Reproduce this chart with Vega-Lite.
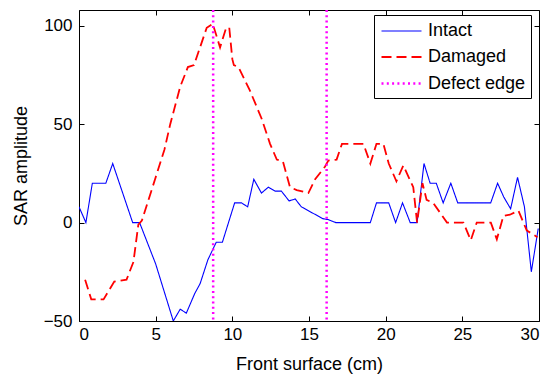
{
  "$schema": "https://vega.github.io/schema/vega-lite/v6.json",
  "width": 460,
  "height": 311,
  "autosize": "none",
  "padding": {"left": 79, "top": 10, "right": 16, "bottom": 56},
  "background": "white",
  "config": {
    "view": {"stroke": "black", "strokeWidth": 1},
    "font": "Liberation Sans",
    "axis": {
      "domain": false,
      "grid": false,
      "zindex": 1,
      "tickColor": "black",
      "tickSize": 5,
      "labelFontSize": 17,
      "labelColor": "black",
      "labelFont": "Liberation Sans",
      "titleFontSize": 18,
      "titleFontWeight": "normal",
      "titleColor": "black",
      "titleFont": "Liberation Sans"
    },
    "legend": {
      "orient": "none",
      "legendX": 295,
      "legendY": 5,
      "strokeColor": "black",
      "fillColor": "white",
      "padding": 5,
      "symbolOffset": 11,
      "labelFontSize": 18,
      "labelColor": "black",
      "labelFont": "Liberation Sans",
      "labelOffset": 15,
      "symbolType": "M-2,0H2",
      "symbolSize": 400,
      "rowPadding": 6,
      "title": null
    }
  },
  "datasets": {
    "lines": [
      {"series": "Intact", "x": 0, "y": 8},
      {"series": "Intact", "x": 0.45, "y": 0},
      {"series": "Intact", "x": 0.87, "y": 20},
      {"series": "Intact", "x": 1.75, "y": 20},
      {"series": "Intact", "x": 2.2, "y": 30},
      {"series": "Intact", "x": 3.5, "y": 0},
      {"series": "Intact", "x": 3.95, "y": 0},
      {"series": "Intact", "x": 5.0, "y": -21},
      {"series": "Intact", "x": 6.15, "y": -50},
      {"series": "Intact", "x": 6.6, "y": -44},
      {"series": "Intact", "x": 7.0, "y": -46},
      {"series": "Intact", "x": 7.55, "y": -36},
      {"series": "Intact", "x": 7.9, "y": -31},
      {"series": "Intact", "x": 8.4, "y": -19},
      {"series": "Intact", "x": 8.95, "y": -10},
      {"series": "Intact", "x": 9.35, "y": -10},
      {"series": "Intact", "x": 10.15, "y": 10},
      {"series": "Intact", "x": 10.6, "y": 10},
      {"series": "Intact", "x": 11.0, "y": 8},
      {"series": "Intact", "x": 11.4, "y": 22},
      {"series": "Intact", "x": 11.9, "y": 15},
      {"series": "Intact", "x": 12.35, "y": 18},
      {"series": "Intact", "x": 12.8, "y": 16},
      {"series": "Intact", "x": 13.2, "y": 16},
      {"series": "Intact", "x": 13.7, "y": 11},
      {"series": "Intact", "x": 14.1, "y": 12},
      {"series": "Intact", "x": 14.5, "y": 8},
      {"series": "Intact", "x": 15.9, "y": 2},
      {"series": "Intact", "x": 16.25, "y": 1.5},
      {"series": "Intact", "x": 16.75, "y": 0},
      {"series": "Intact", "x": 19.0, "y": 0},
      {"series": "Intact", "x": 19.4, "y": 10},
      {"series": "Intact", "x": 20.2, "y": 10},
      {"series": "Intact", "x": 20.65, "y": 0},
      {"series": "Intact", "x": 21.1, "y": 10},
      {"series": "Intact", "x": 21.6, "y": 0},
      {"series": "Intact", "x": 22.05, "y": 0},
      {"series": "Intact", "x": 22.5, "y": 30},
      {"series": "Intact", "x": 22.9, "y": 20},
      {"series": "Intact", "x": 23.3, "y": 20},
      {"series": "Intact", "x": 23.75, "y": 10},
      {"series": "Intact", "x": 24.25, "y": 20},
      {"series": "Intact", "x": 24.7, "y": 10},
      {"series": "Intact", "x": 26.85, "y": 10},
      {"series": "Intact", "x": 27.3, "y": 20},
      {"series": "Intact", "x": 27.7, "y": 13},
      {"series": "Intact", "x": 28.15, "y": 7},
      {"series": "Intact", "x": 28.6, "y": 23},
      {"series": "Intact", "x": 29.05, "y": 8},
      {"series": "Intact", "x": 29.5, "y": -25},
      {"series": "Intact", "x": 29.95, "y": -3},
      {"series": "Damaged", "x": 0.4, "y": -29},
      {"series": "Damaged", "x": 0.8, "y": -39},
      {"series": "Damaged", "x": 1.6, "y": -39},
      {"series": "Damaged", "x": 2.3, "y": -30},
      {"series": "Damaged", "x": 3.1, "y": -29},
      {"series": "Damaged", "x": 3.55, "y": -20},
      {"series": "Damaged", "x": 3.87, "y": -1},
      {"series": "Damaged", "x": 4.1, "y": 1},
      {"series": "Damaged", "x": 4.96, "y": 22},
      {"series": "Damaged", "x": 5.57, "y": 37},
      {"series": "Damaged", "x": 5.95, "y": 50},
      {"series": "Damaged", "x": 6.6, "y": 69},
      {"series": "Damaged", "x": 7.1, "y": 79},
      {"series": "Damaged", "x": 7.5, "y": 80},
      {"series": "Damaged", "x": 8.33, "y": 99},
      {"series": "Damaged", "x": 8.72, "y": 101},
      {"series": "Damaged", "x": 9.2, "y": 89},
      {"series": "Damaged", "x": 9.6, "y": 99},
      {"series": "Damaged", "x": 9.8, "y": 99},
      {"series": "Damaged", "x": 10.0, "y": 83},
      {"series": "Damaged", "x": 10.1, "y": 80},
      {"series": "Damaged", "x": 10.4, "y": 79},
      {"series": "Damaged", "x": 11.15, "y": 67},
      {"series": "Damaged", "x": 11.9, "y": 53},
      {"series": "Damaged", "x": 12.46, "y": 40},
      {"series": "Damaged", "x": 12.9, "y": 32},
      {"series": "Damaged", "x": 13.3, "y": 31},
      {"series": "Damaged", "x": 13.76, "y": 18},
      {"series": "Damaged", "x": 14.2, "y": 16.5},
      {"series": "Damaged", "x": 14.96, "y": 15},
      {"series": "Damaged", "x": 15.4, "y": 22},
      {"series": "Damaged", "x": 16.05, "y": 28.5},
      {"series": "Damaged", "x": 16.26, "y": 31.5},
      {"series": "Damaged", "x": 16.8, "y": 32},
      {"series": "Damaged", "x": 17.15, "y": 40},
      {"series": "Damaged", "x": 18.55, "y": 40},
      {"series": "Damaged", "x": 19.0, "y": 30},
      {"series": "Damaged", "x": 19.4, "y": 40},
      {"series": "Damaged", "x": 19.85, "y": 40},
      {"series": "Damaged", "x": 20.2, "y": 30},
      {"series": "Damaged", "x": 20.7, "y": 21},
      {"series": "Damaged", "x": 21.15, "y": 29},
      {"series": "Damaged", "x": 21.8, "y": 18},
      {"series": "Damaged", "x": 22.05, "y": 0},
      {"series": "Damaged", "x": 22.4, "y": 20},
      {"series": "Damaged", "x": 22.67, "y": 11.5},
      {"series": "Damaged", "x": 23.1, "y": 10},
      {"series": "Damaged", "x": 24.0, "y": 0},
      {"series": "Damaged", "x": 25.07, "y": 0},
      {"series": "Damaged", "x": 25.55, "y": -9},
      {"series": "Damaged", "x": 25.94, "y": 0},
      {"series": "Damaged", "x": 26.86, "y": 0},
      {"series": "Damaged", "x": 27.25, "y": -8.5},
      {"series": "Damaged", "x": 27.68, "y": 3.4},
      {"series": "Damaged", "x": 28.1, "y": 4},
      {"series": "Damaged", "x": 28.66, "y": 6},
      {"series": "Damaged", "x": 29.2, "y": -4},
      {"series": "Damaged", "x": 29.9, "y": -7.4}
    ],
    "edges": [
      {"series": "Defect edge", "x": 8.75},
      {"series": "Defect edge", "x": 16.15}
    ]
  },
  "resolve": {"scale": {"x": "independent", "y": "independent"}, "axis": {"x": "independent", "y": "independent"}},
  "layer": [
    {
      "data": {"name": "lines"},
      "mark": {"type": "line", "clip": true},
      "encoding": {
        "x": {"field": "x", "type": "quantitative",
              "scale": {"domain": [0, 30], "nice": false, "zero": false},
              "axis": {"values": [0, 5, 10, 15, 20, 25, 30], "title": "Front surface (cm)", "ticks": false, "tickSize": 0, "labelPadding": 5.5, "titlePadding": 13}},
        "y": {"field": "y", "type": "quantitative",
              "scale": {"domain": [-50, 108], "nice": false, "zero": false},
              "axis": {"values": [-50, 0, 50, 100], "title": "SAR amplitude", "ticks": false, "tickSize": 0, "labelPadding": 7, "titlePadding": 13}},
        "color": {"field": "series", "type": "nominal",
                  "scale": {"domain": ["Intact", "Damaged", "Defect edge"], "range": ["#0000ff", "#ff0000", "#ff00ff"]}},
        "strokeDash": {"field": "series", "type": "nominal",
                       "scale": {"domain": ["Intact", "Damaged", "Defect edge"], "range": [[1, 0], [10, 5], [2, 3.3]]}},
        "strokeWidth": {"field": "series", "type": "nominal",
                        "scale": {"domain": ["Intact", "Damaged", "Defect edge"], "range": [1.1, 2.5, 2]}}
      }
    },
    {
      "data": {"name": "edges"},
      "mark": {"type": "rule"},
      "encoding": {
        "x": {"field": "x", "type": "quantitative", "scale": {"domain": [0, 30], "nice": false, "zero": false}, "axis": null},
        "color": {"field": "series", "type": "nominal"},
        "strokeDash": {"field": "series", "type": "nominal"},
        "strokeWidth": {"field": "series", "type": "nominal"}
      }
    },
    {
      "data": {"name": "lines"},
      "mark": {"type": "point", "opacity": 0},
      "encoding": {
        "x": {"field": "x", "type": "quantitative", "scale": {"domain": [0, 30], "nice": false, "zero": false}, "axis": {"values": [0, 5, 10, 15, 20, 25, 30], "orient": "top", "offset": -5, "labels": false, "title": null}},
        "y": {"field": "y", "type": "quantitative", "scale": {"domain": [-50, 108], "nice": false, "zero": false}, "axis": {"values": [-50, 0, 50, 100], "orient": "right", "offset": -5, "labels": false, "title": null}}
      }
    },
    {
      "data": {"name": "lines"},
      "mark": {"type": "point", "opacity": 0},
      "encoding": {
        "x": {"field": "x", "type": "quantitative", "scale": {"domain": [0, 30], "nice": false, "zero": false}, "axis": {"values": [0, 5, 10, 15, 20, 25, 30], "orient": "bottom", "offset": -5, "labels": false, "title": null}},
        "y": {"field": "y", "type": "quantitative", "scale": {"domain": [-50, 108], "nice": false, "zero": false}, "axis": {"values": [-50, 0, 50, 100], "orient": "left", "offset": -5, "labels": false, "title": null}}
      }
    }
  ]
}
